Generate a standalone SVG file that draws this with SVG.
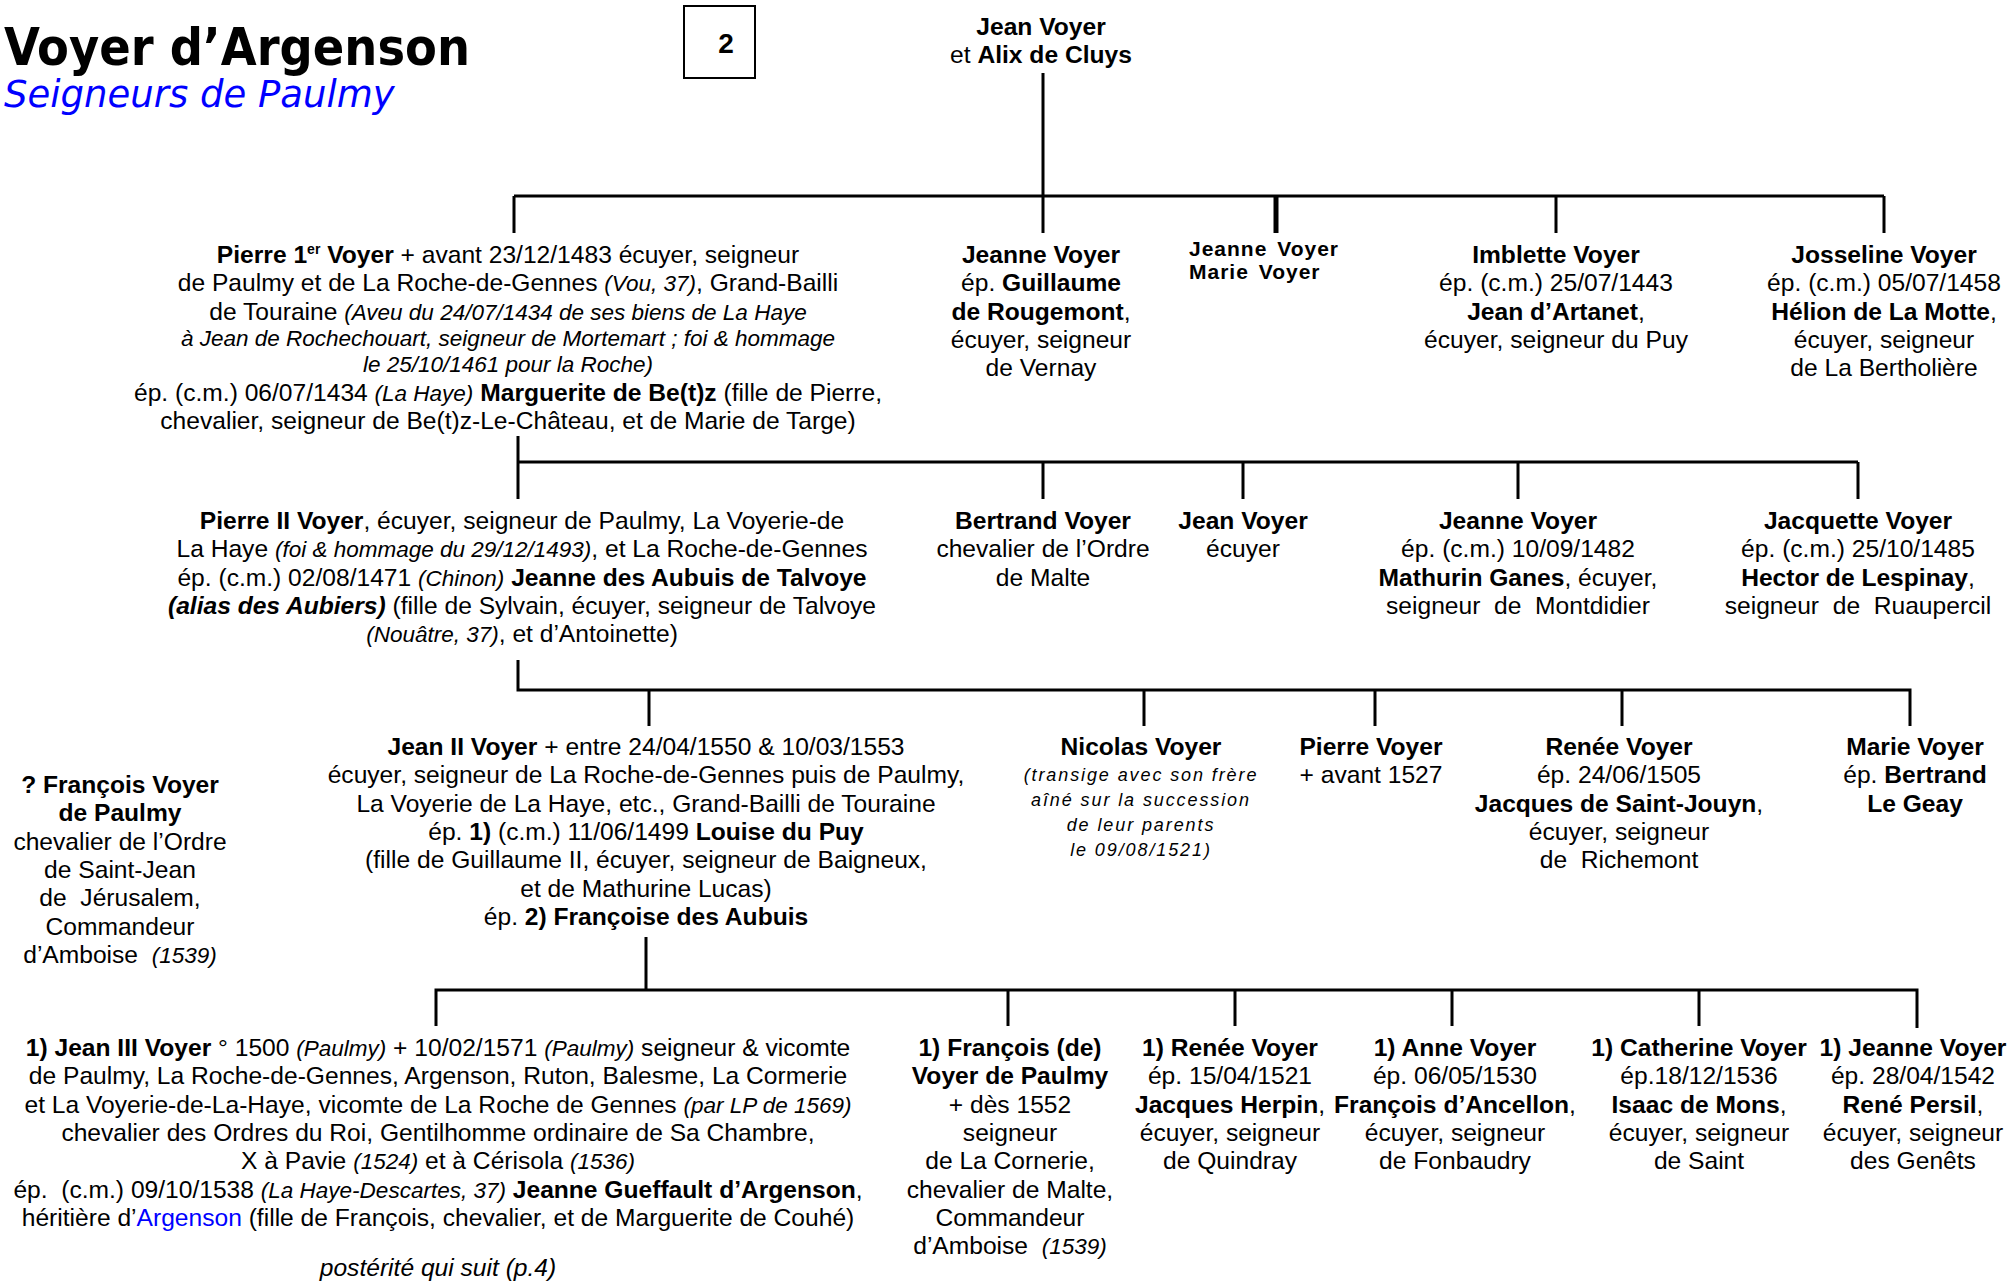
<svg xmlns="http://www.w3.org/2000/svg" width="2011" height="1281" viewBox="0 0 2011 1281">
<style>
.t{font-family:"Liberation Sans",Arial,sans-serif;font-size:24.6px;fill:#000;text-anchor:middle}
.b{font-weight:bold}
.i{font-style:italic;font-size:22.5px}
.bi{font-weight:bold;font-style:italic}
.sm{font-family:"Liberation Sans",Arial,sans-serif;font-size:21px;font-weight:bold;letter-spacing:1px;fill:#000}
.ni{font-style:italic;font-size:18px;letter-spacing:1.9px}
.ln{stroke:#000;stroke-width:3;fill:none}
.blue{fill:#0000FF}
</style>
<rect width="2011" height="1281" fill="#fff"/>
<g id="title">
<text x="4" y="65" font-family="DejaVu Sans Condensed, DejaVu Sans, sans-serif" font-weight="bold" font-size="52" textLength="466" lengthAdjust="spacingAndGlyphs">Voyer d’Argenson</text>
<text x="4" y="107" font-family="DejaVu Sans, sans-serif" font-style="italic" font-size="37" fill="#0000FF">Seigneurs de Paulmy</text>
</g>
<g id="page-box">
<rect x="684" y="6" width="71" height="72" fill="#fff" stroke="#000" stroke-width="2"/>
<text class="t b" x="726" y="53" style="font-size:28px">2</text>
</g>
<g id="connectors">
<path class="ln" d="M1043 73V233M514 196H1884M514 196V233M1556 196V233M1884 196V233"/>
<path class="ln" d="M1276 196V233" style="stroke-width:5"/>
<path class="ln" d="M518 436V499M518 462H1858M1043 462V499M1243 462V499M1518 462V499M1858 462V499"/>
<path class="ln" d="M518 660V690H1910V726M649 690V726M1144 690V726M1375 690V726M1622 690V726"/>
<path class="ln" d="M646 937V990M436 1026V990H1917V1028M1008 990V1026M1235 990V1026M1452 990V1026M1699 990V1026"/>
</g>
<g id="n-jean-alix">
<text class="t b" x="1041" y="35">Jean Voyer</text>
<text class="t" x="1041" y="63">et <tspan class="b">Alix de Cluys</tspan></text>
</g>
<g id="n-pierre1">
<text class="t" x="508" y="263"><tspan class="b">Pierre 1<tspan style="font-size:14px" dy="-9">er</tspan><tspan dy="9"> Voyer</tspan></tspan> + avant 23/12/1483 écuyer, seigneur</text>
<text class="t" x="508" y="291.3">de Paulmy et de La Roche-de-Gennes <tspan class="i">(Vou, 37)</tspan>, Grand-Bailli</text>
<text class="t" x="508" y="319.6">de Touraine <tspan class="i">(Aveu du 24/07/1434 de ses biens de La Haye</tspan></text>
<text class="t i" x="508" y="346">à Jean de Rochechouart, seigneur de Mortemart ; foi &amp; hommage</text>
<text class="t i" x="508" y="372">le 25/10/1461 pour la Roche)</text>
<text class="t" x="508" y="400.5">ép. (c.m.) 06/07/1434 <tspan class="i">(La Haye)</tspan> <tspan class="b">Marguerite de Be(t)z</tspan> (fille de Pierre,</text>
<text class="t" x="508" y="428.8">chevalier, seigneur de Be(t)z-Le-Château, et de Marie de Targe)</text>
</g>
<g id="n-jeanne1">
<text class="t b" x="1041" y="263">Jeanne Voyer</text>
<text class="t" x="1041" y="291.3">ép. <tspan class="b">Guillaume</tspan></text>
<text class="t" x="1041" y="319.6"><tspan class="b">de Rougemont</tspan>,</text>
<text class="t" x="1041" y="347.9">écuyer, seigneur</text>
<text class="t" x="1041" y="376.2">de Vernay</text>
</g>
<g id="n-jeanne-marie">
<text class="sm" x="1189" y="256" word-spacing="3">Jeanne Voyer</text>
<text class="sm" x="1189" y="279" word-spacing="3">Marie Voyer</text>
</g>
<g id="n-imblette">
<text class="t b" x="1556" y="263">Imblette Voyer</text>
<text class="t" x="1556" y="291.3">ép. (c.m.) 25/07/1443</text>
<text class="t" x="1556" y="319.6"><tspan class="b">Jean d’Artanet</tspan>,</text>
<text class="t" x="1556" y="347.9">écuyer, seigneur du Puy</text>
</g>
<g id="n-josseline">
<text class="t b" x="1884" y="263">Josseline Voyer</text>
<text class="t" x="1884" y="291.3">ép. (c.m.) 05/07/1458</text>
<text class="t" x="1884" y="319.6"><tspan class="b">Hélion de La Motte</tspan>,</text>
<text class="t" x="1884" y="347.9">écuyer, seigneur</text>
<text class="t" x="1884" y="376.2">de La Bertholière</text>
</g>
<g id="n-pierre2">
<text class="t" x="522" y="529"><tspan class="b">Pierre II Voyer</tspan>, écuyer, seigneur de Paulmy, La Voyerie-de</text>
<text class="t" x="522" y="557.3">La Haye <tspan class="i">(foi &amp; hommage du 29/12/1493)</tspan>, et La Roche-de-Gennes</text>
<text class="t" x="522" y="585.6">ép. (c.m.) 02/08/1471 <tspan class="i">(Chinon)</tspan> <tspan class="b">Jeanne des Aubuis de Talvoye</tspan></text>
<text class="t" x="522" y="613.9"><tspan class="bi">(alias des Aubiers)</tspan> (fille de Sylvain, écuyer, seigneur de Talvoye</text>
<text class="t" x="522" y="642.2"><tspan class="i">(Nouâtre, 37)</tspan>, et d’Antoinette)</text>
</g>
<g id="n-bertrand">
<text class="t b" x="1043" y="529">Bertrand Voyer</text>
<text class="t" x="1043" y="557.3">chevalier de l’Ordre</text>
<text class="t" x="1043" y="585.6">de Malte</text>
</g>
<g id="n-jean2b">
<text class="t b" x="1243" y="529">Jean Voyer</text>
<text class="t" x="1243" y="557.3">écuyer</text>
</g>
<g id="n-jeanne2">
<text class="t b" x="1518" y="529">Jeanne Voyer</text>
<text class="t" x="1518" y="557.3">ép. (c.m.) 10/09/1482</text>
<text class="t" x="1518" y="585.6"><tspan class="b">Mathurin Ganes</tspan>, écuyer,</text>
<text class="t" x="1518" y="613.9">seigneur&#160; de&#160; Montdidier</text>
</g>
<g id="n-jacquette">
<text class="t b" x="1858" y="529">Jacquette Voyer</text>
<text class="t" x="1858" y="557.3">ép. (c.m.) 25/10/1485</text>
<text class="t" x="1858" y="585.6"><tspan class="b">Hector de Lespinay</tspan>,</text>
<text class="t" x="1858" y="613.9">seigneur&#160; de&#160; Ruaupercil</text>
</g>
<g id="n-francois-q">
<text class="t b" x="120" y="793">? François Voyer</text>
<text class="t b" x="120" y="821.3">de Paulmy</text>
<text class="t" x="120" y="849.6">chevalier de l’Ordre</text>
<text class="t" x="120" y="877.9">de Saint-Jean</text>
<text class="t" x="120" y="906.2">de&#160; Jérusalem,</text>
<text class="t" x="120" y="934.5">Commandeur</text>
<text class="t" x="120" y="962.8">d’Amboise&#160; <tspan class="i">(1539)</tspan></text>
</g>
<g id="n-jean2">
<text class="t" x="646" y="755"><tspan class="b">Jean II Voyer</tspan> + entre 24/04/1550 &amp; 10/03/1553</text>
<text class="t" x="646" y="783.3">écuyer, seigneur de La Roche-de-Gennes puis de Paulmy,</text>
<text class="t" x="646" y="811.6">La Voyerie de La Haye, etc., Grand-Bailli de Touraine</text>
<text class="t" x="646" y="839.9">ép. <tspan class="b">1)</tspan> (c.m.) 11/06/1499 <tspan class="b">Louise du Puy</tspan></text>
<text class="t" x="646" y="868.2">(fille de Guillaume II, écuyer, seigneur de Baigneux,</text>
<text class="t" x="646" y="896.5">et de Mathurine Lucas)</text>
<text class="t" x="646" y="924.8">ép. <tspan class="b">2) Françoise des Aubuis</tspan></text>
</g>
<g id="n-nicolas">
<text class="t b" x="1141" y="755">Nicolas Voyer</text>
<text class="t ni" x="1141" y="780.7">(transige avec son frère</text>
<text class="t ni" x="1141" y="806.3">aîné sur la succession</text>
<text class="t ni" x="1141" y="831.3">de leur parents</text>
<text class="t ni" x="1141" y="856">le 09/08/1521)</text>
</g>
<g id="n-pierre3">
<text class="t b" x="1371" y="755">Pierre Voyer</text>
<text class="t" x="1371" y="783.3">+ avant 1527</text>
</g>
<g id="n-renee3">
<text class="t b" x="1619" y="755">Renée Voyer</text>
<text class="t" x="1619" y="783.3">ép. 24/06/1505</text>
<text class="t" x="1619" y="811.6"><tspan class="b">Jacques de Saint-Jouyn</tspan>,</text>
<text class="t" x="1619" y="839.9">écuyer, seigneur</text>
<text class="t" x="1619" y="868.2">de&#160; Richemont</text>
</g>
<g id="n-marie3">
<text class="t b" x="1915" y="755">Marie Voyer</text>
<text class="t" x="1915" y="783.3">ép. <tspan class="b">Bertrand</tspan></text>
<text class="t b" x="1915" y="811.6">Le Geay</text>
</g>
<g id="n-jean3">
<text class="t" x="438" y="1056"><tspan class="b">1) Jean III Voyer</tspan> ° 1500 <tspan class="i">(Paulmy)</tspan> + 10/02/1571 <tspan class="i">(Paulmy)</tspan> seigneur &amp; vicomte</text>
<text class="t" x="438" y="1084.3">de Paulmy, La Roche-de-Gennes, Argenson, Ruton, Balesme, La Cormerie</text>
<text class="t" x="438" y="1112.6">et La Voyerie-de-La-Haye, vicomte de La Roche de Gennes <tspan class="i">(par LP de 1569)</tspan></text>
<text class="t" x="438" y="1140.9">chevalier des Ordres du Roi, Gentilhomme ordinaire de Sa Chambre,</text>
<text class="t" x="438" y="1169.2">X à Pavie <tspan class="i">(1524)</tspan> et à Cérisola <tspan class="i">(1536)</tspan></text>
<text class="t" x="438" y="1197.5">ép.&#160; (c.m.) 09/10/1538 <tspan class="i">(La Haye-Descartes, 37)</tspan> <tspan class="b">Jeanne Gueffault d’Argenson</tspan>,</text>
<text class="t" x="438" y="1225.8">héritière d’<tspan class="blue">Argenson</tspan> (fille de François, chevalier, et de Marguerite de Couhé)</text>
<text class="t" x="438" y="1276" font-style="italic">postérité qui suit (p.4)</text>
</g>
<g id="n-francois4">
<text class="t b" x="1010" y="1056">1) François (de)</text>
<text class="t b" x="1010" y="1084.3">Voyer de Paulmy</text>
<text class="t" x="1010" y="1112.6">+ dès 1552</text>
<text class="t" x="1010" y="1140.9">seigneur</text>
<text class="t" x="1010" y="1169.2">de La Cornerie,</text>
<text class="t" x="1010" y="1197.5">chevalier de Malte,</text>
<text class="t" x="1010" y="1225.8">Commandeur</text>
<text class="t" x="1010" y="1254.1">d’Amboise&#160; <tspan class="i">(1539)</tspan></text>
</g>
<g id="n-renee4">
<text class="t b" x="1230" y="1056">1) Renée Voyer</text>
<text class="t" x="1230" y="1084.3">ép. 15/04/1521</text>
<text class="t" x="1230" y="1112.6"><tspan class="b">Jacques Herpin</tspan>,</text>
<text class="t" x="1230" y="1140.9">écuyer, seigneur</text>
<text class="t" x="1230" y="1169.2">de Quindray</text>
</g>
<g id="n-anne4">
<text class="t b" x="1455" y="1056">1) Anne Voyer</text>
<text class="t" x="1455" y="1084.3">ép. 06/05/1530</text>
<text class="t" x="1455" y="1112.6"><tspan class="b">François d’Ancellon</tspan>,</text>
<text class="t" x="1455" y="1140.9">écuyer, seigneur</text>
<text class="t" x="1455" y="1169.2">de Fonbaudry</text>
</g>
<g id="n-catherine4">
<text class="t b" x="1699" y="1056">1) Catherine Voyer</text>
<text class="t" x="1699" y="1084.3">ép.18/12/1536</text>
<text class="t" x="1699" y="1112.6"><tspan class="b">Isaac de Mons</tspan>,</text>
<text class="t" x="1699" y="1140.9">écuyer, seigneur</text>
<text class="t" x="1699" y="1169.2">de Saint</text>
</g>
<g id="n-jeanne4">
<text class="t b" x="1913" y="1056">1) Jeanne Voyer</text>
<text class="t" x="1913" y="1084.3">ép. 28/04/1542</text>
<text class="t" x="1913" y="1112.6"><tspan class="b">René Persil</tspan>,</text>
<text class="t" x="1913" y="1140.9">écuyer, seigneur</text>
<text class="t" x="1913" y="1169.2">des Genêts</text>
</g>
</svg>
